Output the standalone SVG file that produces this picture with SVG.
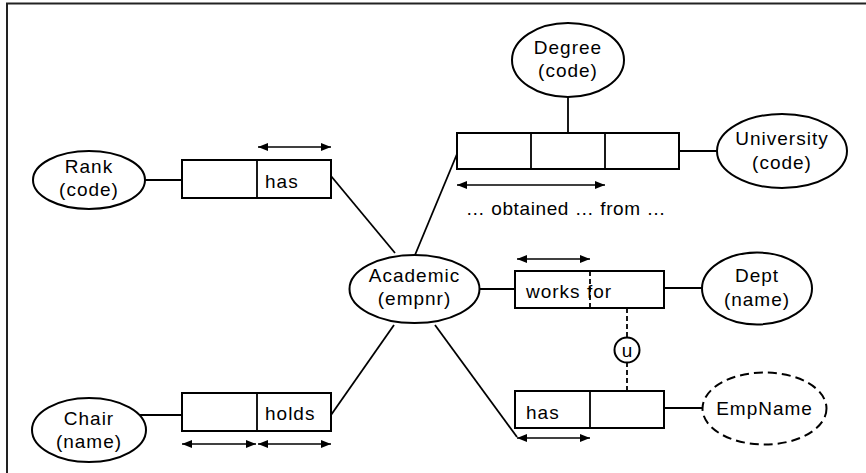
<svg xmlns="http://www.w3.org/2000/svg" width="866" height="473" viewBox="0 0 866 473">
<style>
.s{fill:#fff;stroke:#000;stroke-width:2}
.l{fill:none;stroke:#000;stroke-width:1.8}
.d{fill:none;stroke:#000;stroke-width:1.8;stroke-dasharray:5 3}
.a{fill:none;stroke:#000;stroke-width:1.3;marker-start:url(#ah);marker-end:url(#ah)}
text{font-family:"Liberation Sans",Arial,sans-serif;font-size:19px;letter-spacing:1px;fill:#000}
.m{text-anchor:middle}
</style>
<defs>
<marker id="ah" viewBox="0 0 10 8" refX="10" refY="4" markerWidth="10" markerHeight="8" markerUnits="userSpaceOnUse" orient="auto-start-reverse">
<path d="M0,0 L10,4 L0,8 Z" fill="#000"/>
</marker>
</defs>
<rect width="866" height="473" fill="#fff"/>
<path d="M7,473 V3.5 H866" fill="none" stroke="#222" stroke-width="2"/>
<g id="connectors">
<line class="l" x1="145" y1="180" x2="182" y2="180"/>
<line class="l" x1="140" y1="415" x2="182" y2="415"/>
<line class="l" x1="331" y1="176" x2="395" y2="253"/>
<line class="l" x1="457" y1="154" x2="415" y2="255"/>
<line class="l" x1="331" y1="415" x2="394" y2="325"/>
<line class="l" x1="435" y1="325" x2="517" y2="437"/>
<line class="l" x1="568" y1="97" x2="568" y2="133"/>
<line class="l" x1="679" y1="151" x2="717" y2="151"/>
<line class="l" x1="480" y1="289" x2="515" y2="289"/>
<line class="l" x1="664" y1="288" x2="702" y2="288"/>
<line class="l" x1="664" y1="408" x2="702" y2="408"/>
<line class="d" x1="627" y1="308" x2="627" y2="338"/>
<line class="d" x1="627" y1="362" x2="627" y2="391"/>
</g>
<g id="rank">
<ellipse class="s" cx="89" cy="180" rx="56" ry="29"/>
<text class="m" x="89" y="173">Rank</text>
<text class="m" x="89" y="196">(code)</text>
</g>
<g id="has-rank">
<rect class="s" x="182" y="160" width="149" height="38"/>
<line class="l" x1="257" y1="160" x2="257" y2="198"/>
<text x="265" y="188">has</text>
<line class="a" x1="258" y1="147" x2="331" y2="147"/>
</g>
<g id="chair">
<ellipse class="s" cx="89" cy="430" rx="57" ry="32"/>
<text class="m" x="89" y="425">Chair</text>
<text class="m" x="89" y="448">(name)</text>
</g>
<g id="holds">
<rect class="s" x="182" y="393" width="149" height="38"/>
<line class="l" x1="257" y1="393" x2="257" y2="431"/>
<text x="265" y="420">holds</text>
<line class="a" x1="182" y1="444" x2="256" y2="444"/>
<line class="a" x1="258" y1="444" x2="331" y2="444"/>
</g>
<g id="academic">
<ellipse class="s" cx="414.5" cy="289" rx="65" ry="34"/>
<text class="m" x="414.5" y="282">Academic</text>
<text class="m" x="414.5" y="305">(empnr)</text>
</g>
<g id="degree">
<ellipse class="s" cx="568" cy="60" rx="56" ry="37"/>
<text class="m" x="568" y="54">Degree</text>
<text class="m" x="568" y="77">(code)</text>
</g>
<g id="obtained">
<rect class="s" x="457" y="133" width="222" height="36"/>
<line class="l" x1="531" y1="133" x2="531" y2="169"/>
<line class="l" x1="605" y1="133" x2="605" y2="169"/>
<line class="a" x1="457" y1="185" x2="605" y2="185"/>
<text class="m" x="566" y="215" style="letter-spacing:0.6px">… obtained … from …</text>
</g>
<g id="university">
<ellipse class="s" cx="782" cy="151" rx="65" ry="37"/>
<text class="m" x="782" y="145">University</text>
<text class="m" x="782" y="169">(code)</text>
</g>
<g id="works-for">
<rect class="s" x="515" y="271" width="149" height="37"/>
<line class="d" x1="590" y1="271" x2="590" y2="308"/>
<text x="526" y="298">works for</text>
<line class="a" x1="517" y1="259" x2="590" y2="259"/>
</g>
<g id="dept">
<ellipse class="s" cx="757" cy="288.5" rx="55" ry="36"/>
<text class="m" x="757" y="282">Dept</text>
<text class="m" x="757" y="306">(name)</text>
</g>
<g id="u">
<circle class="s" cx="627" cy="350" r="12.5" stroke-width="1.5"/>
<text class="m" x="627" y="357" style="letter-spacing:0">u</text>
</g>
<g id="has-name">
<rect class="s" x="515" y="391" width="149" height="37"/>
<line class="l" x1="590" y1="391" x2="590" y2="428"/>
<text x="526" y="419">has</text>
<line class="a" x1="517" y1="438" x2="590" y2="438"/>
</g>
<g id="empname">
<ellipse class="s" cx="764.5" cy="408.5" rx="62" ry="36" stroke-dasharray="9 5"/>
<text class="m" x="764.5" y="415">EmpName</text>
</g>
</svg>
